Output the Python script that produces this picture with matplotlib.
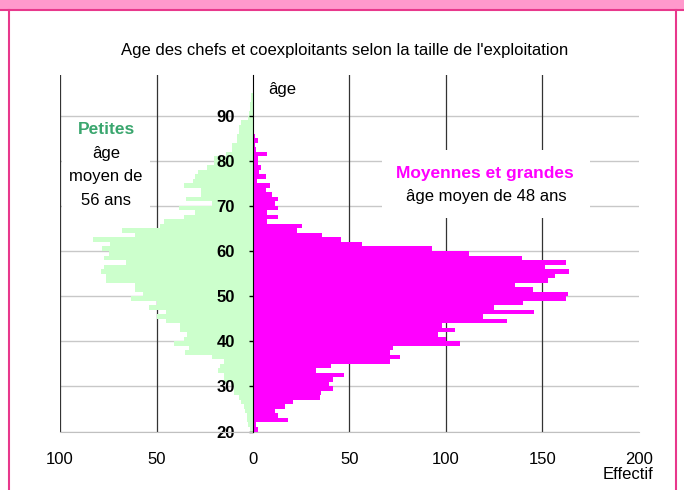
import matplotlib
matplotlib.use("Agg")
import matplotlib.pyplot as plt
from matplotlib.patches import Rectangle
from matplotlib.lines import Line2D

plt.rcParams['font.family'] = ['Liberation Sans', 'DejaVu Sans']

# ages 20 .. 94, one bar per year
ages = list(range(20, 95))

# Petites exploitations (left side), number of people per age
petites = [1.5, 2.5, 3, 3, 4, 4.5, 6, 7, 10, 10,
           11.5, 15, 15, 18, 17, 15, 21, 35, 33, 41,
           36, 34, 38, 38, 45, 50, 45, 54, 50, 63,
           57, 61, 61, 76, 76, 79, 77, 66, 77, 74.5,
           78, 74, 83, 61, 68, 48, 46, 36, 30, 38.5,
           21, 34.5, 27, 27, 36, 31, 30, 28.5, 24, 20,
           20, 14, 11, 11, 8.5, 8.5, 7, 7, 6, 2.5,
           2, 1.5, 1.5, 1, 1]

# Moyennes et grandes exploitations (right side)
moyennes = [2.4, 1.4, 17.9, 12.8, 11.4, 16.5, 20.5, 34.6, 35.1, 41.3,
            39.3, 41.3, 47, 32.9, 40.3, 70.8, 76.3, 70.8, 72.4, 107,
            100, 95.6, 104.7, 98, 131.6, 119.2, 145.6, 124.9, 139.9, 162,
            163.1, 145, 135.7, 153.1, 156.4, 163.8, 151.1, 162.1, 139.4, 112,
            92.9, 56.7, 45.5, 36, 22.6, 25.2, 7.1, 12.8, 7.1, 12.7,
            11.4, 12.7, 9.7, 6.5, 8.8, 2, 6.5, 3, 4, 2.4,
            2.4, 7, 1.4, 1.2, 2.4, 1, 0, 0, 0, 0,
            0, 0, 0, 0, 0]

xticks = [-100, -50, 0, 50, 100, 150, 200]
xlabels = ['100', '50', '0', '50', '100', '150', '200']
yticks = [20, 30, 40, 50, 60, 70, 80, 90]

green = '#ccffcc'
magenta = '#ff00ff'
pink_dark = '#e8388c'

fig = plt.figure(figsize=(6.84, 4.9), dpi=100)
ax = fig.add_axes([60 / 684, 1 - 431.5 / 490, 579 / 684, 356.5 / 490])

# gridlines drawn by hand so that they stay under the bars
for v in yticks:
    ax.axhline(v, color='#c8c8c8', lw=1, zorder=0)
for v in xticks[:-1]:
    if v != 0:
        ax.axvline(v, color='#333333', lw=0.9, zorder=0)

ax.barh(ages, [-v for v in petites], height=1, align='edge',
        color=green, linewidth=0, zorder=1)
ax.barh(ages, moyennes, height=1, align='edge',
        color=magenta, linewidth=0, zorder=1)

ax.set_xlim(-100, 200)
ax.set_ylim(20, 99)

ax.spines['top'].set_visible(False)
ax.spines['right'].set_visible(False)
ax.spines['bottom'].set_color('#c0c0c0')
ax.spines['left'].set_position(('data', 0))
ax.spines['left'].set_color('black')
ax.spines['left'].set_zorder(3)

ax.set_xticks(xticks)
ax.set_xticklabels(xlabels, fontsize=12)
ax.tick_params(axis='x', length=0, pad=15)
ax.set_yticks(yticks)
ax.set_yticklabels([str(v) for v in yticks], fontsize=12, fontweight='bold')
ax.tick_params(axis='y', length=3, width=1, pad=10, direction='out')

# label boxes (white background hides the grid)
ax.add_patch(Rectangle((0.003, 0.616), 0.152, 0.263, transform=ax.transAxes,
                       facecolor='white', edgecolor='none', zorder=2))
ax.add_patch(Rectangle((0.556, 0.60), 0.36, 0.19, transform=ax.transAxes,
                       facecolor='white', edgecolor='none', zorder=2))

ax.text(0.0795, 0.846, 'Petites', transform=ax.transAxes, ha='center', va='center',
        fontsize=12.5, fontweight='bold', color='#3aa66e', zorder=4)
ax.text(0.0795, 0.781, 'âge', transform=ax.transAxes, ha='center', va='center',
        fontsize=12, zorder=4)
ax.text(0.0795, 0.714, 'moyen de', transform=ax.transAxes, ha='center', va='center',
        fontsize=12, zorder=4)
ax.text(0.0795, 0.649, '56 ans', transform=ax.transAxes, ha='center', va='center',
        fontsize=12, zorder=4)

ax.text(0.734, 0.725, 'Moyennes et grandes', transform=ax.transAxes, ha='center',
        va='center', fontsize=12.5, fontweight='bold', color=magenta, zorder=4)
ax.text(0.737, 0.658, 'âge moyen de 48 ans', transform=ax.transAxes, ha='center',
        va='center', fontsize=12, zorder=4)

ax.text(0.383, 0.958, 'âge', transform=ax.transAxes, ha='center', va='center',
        fontsize=12, zorder=4)

fig.text(0.504, 1 - 50 / 490, "Age des chefs et coexploitants selon la taille de l'exploitation",
         ha='center', va='center', fontsize=12)
fig.text(653 / 684, 1 - 474 / 490, 'Effectif', ha='right', va='center', fontsize=12)

# pink frame
fig.add_artist(Rectangle((0, 1 - 9 / 490), 1, 9 / 490, transform=fig.transFigure,
                         facecolor='#ff99cc', edgecolor='none'))
fig.add_artist(Line2D([0, 1], [1 - 10 / 490, 1 - 10 / 490], transform=fig.transFigure,
                      color=pink_dark, lw=1.5))
fig.add_artist(Line2D([9 / 684, 9 / 684], [0, 1 - 10 / 490], transform=fig.transFigure,
                      color=pink_dark, lw=1.5))
fig.add_artist(Line2D([676 / 684, 676 / 684], [0, 1 - 10 / 490], transform=fig.transFigure,
                      color=pink_dark, lw=1.5))

fig.savefig('out.png', dpi=100)
